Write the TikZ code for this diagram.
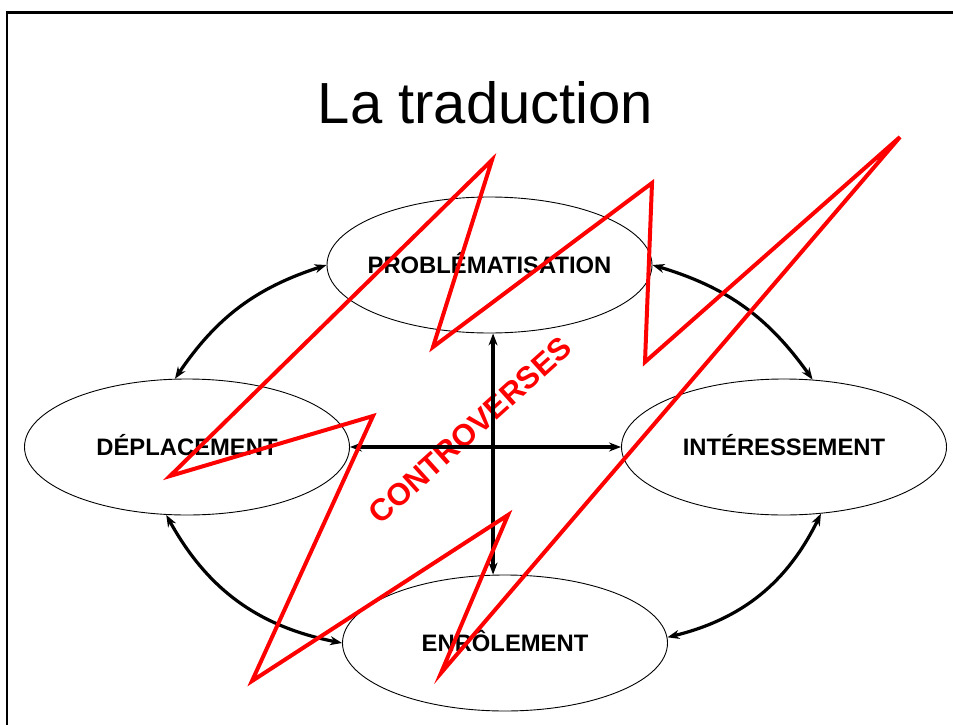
\documentclass[tikz,border=0pt]{standalone}
\usepackage{fontspec}
\setmainfont{Liberation Sans}
\usetikzlibrary{shapes.geometric,arrows.meta}
\newcommand{\ctrtext}[1]{\makebox[0pt][c]{#1}}
\begin{document}
\begin{tikzpicture}[x=1pt,y=-1pt,
  ell/.style={ellipse,draw,line width=0.9pt,minimum width=325pt,minimum height=136pt,inner sep=0pt,
    font=\fontsize{23.8}{24}\selectfont\bfseries,text height=17pt,text depth=0pt},
  arr/.style={line width=3.2pt,{Stealth[length=12pt,width=9pt]}-{Stealth[length=12pt,width=9pt]}},
  zig/.style={red,line width=4pt}]
\useasboundingbox (0,0) rectangle (953,725);
\fill[white] (0,0) rectangle (953,725);
% frame
\draw[line width=2.5pt] (7,12.5) rectangle (990,760);
% title
\node[font=\fontsize{58}{60}\selectfont,anchor=base,inner sep=0pt] (title) at (485.5,123) {La traduction};
% controverses label
\node[red,font=\fontsize{31}{31}\selectfont\bfseries,rotate=42,text height=22pt,text depth=0pt,inner sep=0pt] (contr) at (470,430) {CONTROVERSES};
% ellipses
\node[ell] (P) at (489.5,265) {\ctrtext{PROBLÉMATISATION}};
\node[ell] (D) at (187,447) {\ctrtext{DÉPLACEMENT}};
\node[ell] (I) at (784,447) {\ctrtext{INTÉRESSEMENT}};
\node[ell] (E) at (505,643) {\ctrtext{ENRÔLEMENT}};
% arrows
\draw[arr] (P.west) to[bend right=19] (D.100);
\draw[arr] (P.east) to[bend left=19] (I.67);
\draw[arr] (D.253) to[bend right=25] (E.west);
\draw[arr] (I.299) to[bend left=25] (E.2);
\draw[arr] (D.east) -- (I.west);
\draw[arr] (P.273) -- (P.273 |- E.north);
% red zigzag
\draw[zig] (170,476) -- (492,160) -- (433,347) -- (652,183) -- (645,362) -- (900,137)
  -- (441,673) -- (508,515) -- (252,681) -- (373,416) -- cycle;
\end{tikzpicture}
\end{document}
